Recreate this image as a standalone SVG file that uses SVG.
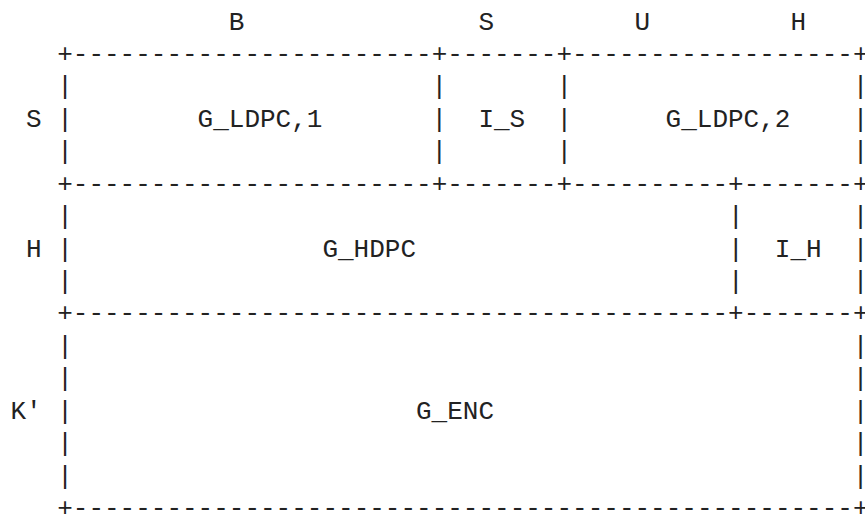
<svg xmlns="http://www.w3.org/2000/svg" width="865" height="515" viewBox="0 0 865 515">
<style>
.t { font-family: "Liberation Mono", "DejaVu Sans Mono", monospace; font-size: 26px; fill: #222; }
</style>
<rect width="865" height="515" fill="#fff"/>
<g id="axis-labels" class="t">
<text x="228.8" y="29.6">B</text>
<text x="478.4" y="29.6">S</text>
<text x="634.4" y="29.6">U</text>
<text x="790.4" y="29.6">H</text>
<text x="26" y="126.9">S</text>
<text x="26" y="256.6">H</text>
<text x="10.4" y="418.7">K'</text>
</g>
<g id="connectors" class="t">
<text x="57.2" y="62">+-----------------------+-------+------------------+</text>
<text x="57.2" y="94.4">|</text><text x="431.6" y="94.4">|</text><text x="556.4" y="94.4">|</text><text x="852.8" y="94.4">|</text>
<text x="57.2" y="126.9">|</text><text x="431.6" y="126.9">|</text><text x="556.4" y="126.9">|</text><text x="852.8" y="126.9">|</text>
<text x="57.2" y="159.3">|</text><text x="431.6" y="159.3">|</text><text x="556.4" y="159.3">|</text><text x="852.8" y="159.3">|</text>
<text x="57.2" y="191.7">+-----------------------+-------+----------+-------+</text>
<text x="57.2" y="224.2">|</text><text x="728" y="224.2">|</text><text x="852.8" y="224.2">|</text>
<text x="57.2" y="256.6">|</text><text x="728" y="256.6">|</text><text x="852.8" y="256.6">|</text>
<text x="57.2" y="289">|</text><text x="728" y="289">|</text><text x="852.8" y="289">|</text>
<text x="57.2" y="321.4">+------------------------------------------+-------+</text>
<text x="57.2" y="353.9">|</text><text x="852.8" y="353.9">|</text>
<text x="57.2" y="386.3">|</text><text x="852.8" y="386.3">|</text>
<text x="57.2" y="418.7">|</text><text x="852.8" y="418.7">|</text>
<text x="57.2" y="451.2">|</text><text x="852.8" y="451.2">|</text>
<text x="57.2" y="483.6">|</text><text x="852.8" y="483.6">|</text>
<text x="57.2" y="515.5">+--------------------------------------------------+</text>
</g>
<g id="G_LDPC1" class="t"><text x="197.6" y="126.9">G_LDPC,1</text></g>
<g id="I_S" class="t"><text x="478.4" y="126.9">I_S</text></g>
<g id="G_LDPC2" class="t"><text x="665.6" y="126.9">G_LDPC,2</text></g>
<g id="G_HDPC" class="t"><text x="322.4" y="256.6">G_HDPC</text></g>
<g id="I_H" class="t"><text x="774.8" y="256.6">I_H</text></g>
<g id="G_ENC" class="t"><text x="416" y="418.7">G_ENC</text></g>
</svg>
